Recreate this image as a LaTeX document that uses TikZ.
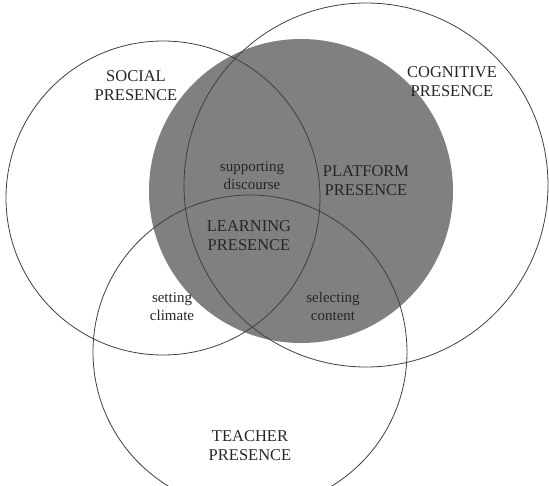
\documentclass[tikz,border=0pt]{standalone}
\usepackage{fontspec}
\setmainfont{Liberation Serif}
\tikzset{
  bigtext/.style={align=center,inner sep=0pt,font=\fontsize{16.5}{19}\selectfont,text=black!85},
  smalltext/.style={align=center,inner sep=0pt,font=\fontsize{15}{17.5}\selectfont,text=black!85},
  ring/.style={draw=black!75,line width=0.8pt}
}
\begin{document}
\begin{tikzpicture}[x=1pt,y=-1pt]
\useasboundingbox (0,0) rectangle (549,485);
\clip (0,0) rectangle (549,485);

% platform presence (filled)
\fill[gray] (301,191) circle[radius=152pt];

% social, cognitive, teacher
\foreach \cx/\cy/\r in {163/198/157,366/185/182,250/352/157}
{
\draw[ring] (\cx,\cy) circle[radius=\r pt];
}

\node[bigtext] (social) at (136,86) {SOCIAL\\PRESENCE};
\node[bigtext] (cognitive) at (452,81.5) {COGNITIVE\\PRESENCE};
\node[bigtext] (platform) at (366,180.5) {PLATFORM\\PRESENCE};
\node[bigtext] (learning) at (249,235.5) {LEARNING\\PRESENCE};
\node[bigtext] (teacher) at (250,445.5) {TEACHER\\PRESENCE};

\node[smalltext] (discourse) at (252,175.5) {supporting\\discourse};
\node[smalltext] (climate) at (172,306.5) {setting\\climate};
\node[smalltext] (content) at (333,306.5) {selecting\\content};
\end{tikzpicture}
\end{document}
